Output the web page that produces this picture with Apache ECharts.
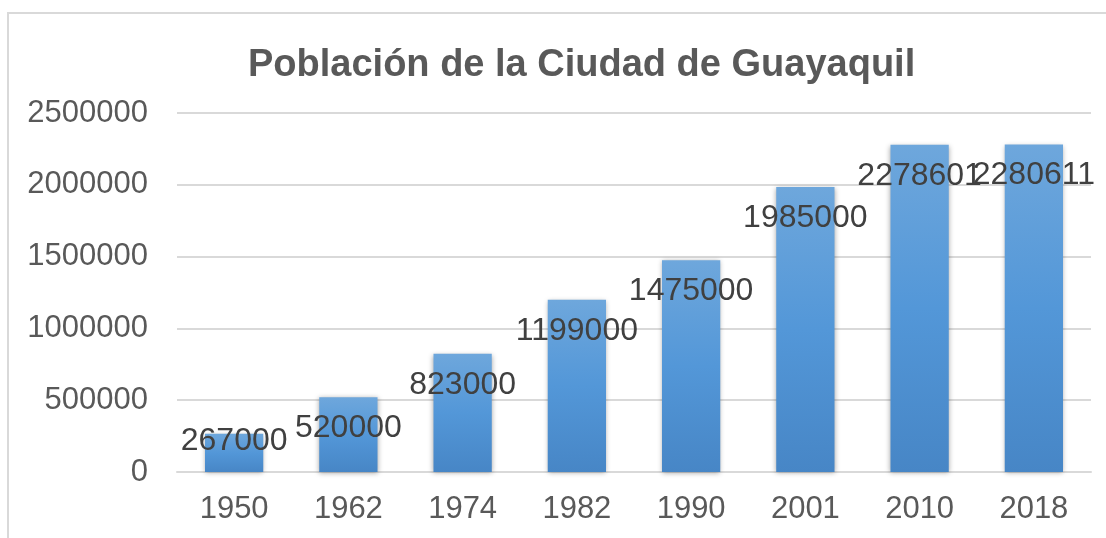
<!DOCTYPE html>
<html>
<head>
<meta charset="utf-8">
<script src="https://cdn.jsdelivr.net/npm/echarts@6/dist/echarts.min.js"></script>
<style>
  html, body { margin: 0; padding: 0; background: #fff; }
  #chart { width: 1106px; height: 538px; }
</style>
</head>
<body>
<div id="chart"></div>
<script>
// datos del gráfico
const years = ["1950", "1962", "1974", "1982", "1990", "2001", "2010", "2018"];
const population = [267000, 520000, 823000, 1199000, 1475000, 1985000, 2278601, 2280611];
const yTicks = [0, 500000, 1000000, 1500000, 2000000, 2500000];

let myChart = echarts.init(document.getElementById("chart"));

let option = {
    backgroundColor: "#fff",
    animation: false,
    title: {
        text: "Población de la Ciudad de Guayaquil",
        left: 248,
        top: 47,
        padding: 0,
        textStyle: {
            fontFamily: "Liberation Sans, Arial",
            fontSize: 38,
            fontWeight: "bold",
            color: "#595959",
        },
    },
    // marco exterior
    graphic: [
        {
            type: "rect",
            z: -10,
            shape: { x: 8, y: 13, width: 1200, height: 600 },
            style: { fill: "none", stroke: "#d9d9d9", lineWidth: 2 },
        },
    ],
    grid: {
        left: 177,
        right: 15,
        top: 113,
        bottom: 66,
    },
    xAxis: {
        type: "category",
        data: years,
        axisTick: { show: false },
        axisLine: {
            lineStyle: { color: "#d9d9d9", width: 2 },
        },
        axisLabel: {
            color: "#595959",
            fontSize: 31,
            fontFamily: "Liberation Sans, Arial",
            margin: 22,
        },
    },
    yAxis: {
        type: "value",
        min: yTicks[0],
        max: yTicks[yTicks.length - 1],
        interval: yTicks[1] - yTicks[0],
        axisLine: { show: false },
        axisTick: { show: false },
        axisLabel: {
            color: "#595959",
            fontSize: 31,
            fontFamily: "Liberation Sans, Arial",
            margin: 29,
            formatter: function (v) {
                return String(v);
            },
        },
        splitLine: {
            lineStyle: { color: "#d9d9d9", width: 2 },
        },
    },
    series: [
        {
            type: "bar",
            barWidth: "51%",
            data: population.map(function (v, i) {
                // la primera barra es muy corta, la etiqueta va más arriba
                if (i === 0) {
                    return { value: v, label: { offset: [0, -23] } };
                }
                return v;
            }),
            itemStyle: {
                color: new echarts.graphic.LinearGradient(0, 0, 0, 1, [
                    { offset: 0, color: "#6ea7dc" },
                    { offset: 0.5, color: "#5397d8" },
                    { offset: 1, color: "#4786c6" },
                ]),
                shadowColor: "rgba(0,0,0,0.35)",
                shadowBlur: 5,
                shadowOffsetY: 1,
            },
            label: {
                show: true,
                position: "insideTop",
                distance: 15,
                color: "#404040",
                fontSize: 32,
                fontFamily: "Liberation Sans, Arial",
            },
        },
    ],
};

myChart.setOption(option);
window.addEventListener("resize", function () {
    myChart.resize();
});
</script>
</body>
</html>
